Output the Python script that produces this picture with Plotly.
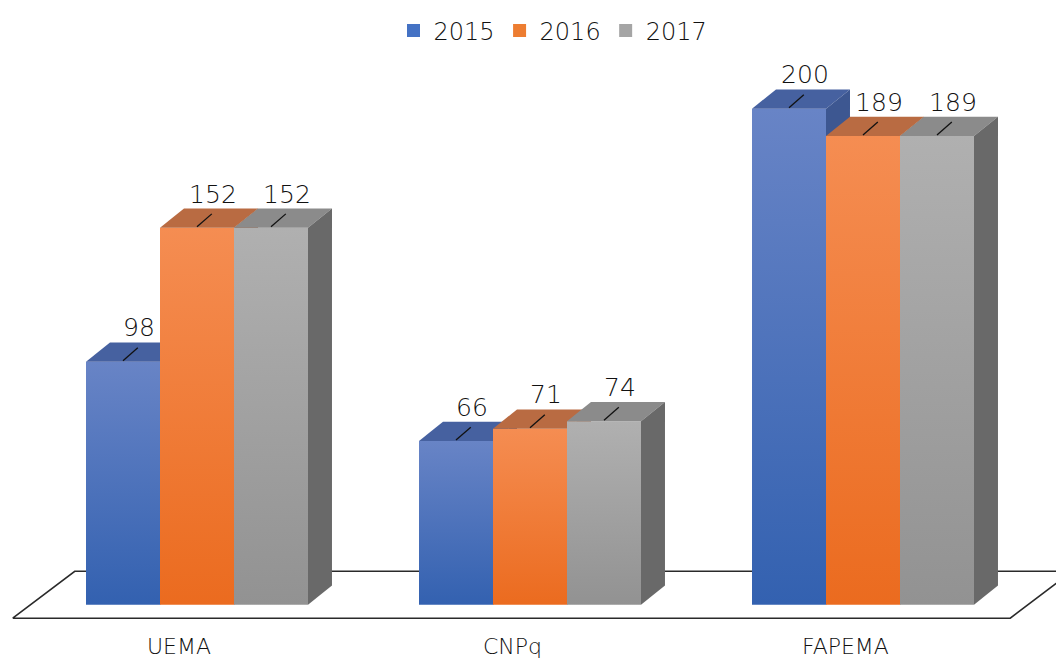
import plotly.graph_objects as go

# ---- data ----
categories = ["UEMA", "CNPq", "FAPEMA"]
years = ["2015", "2016", "2017"]
values_2015 = [98, 66, 200]
values_2016 = [152, 71, 189]
values_2017 = [152, 74, 189]
series = [values_2015, values_2016, values_2017]

# ---- style ----
legend_col = ["#4472c4", "#ed7d31", "#a5a5a5"]
front_top = ["#6884c6", "#f58d52", "#b0b0b0"]
front_bottom = ["#3361b0", "#eb6b1f", "#929292"]
top_col = ["#4661a0", "#b96b42", "#8b8b8b"]
side_col = ["#3d5791", "#a85a2e", "#696969"]

FONT = "DejaVu Sans"
GROUP_STEP = 4.5      # distance between category centres (bar widths)
BAR_W = 1.0
DX = 0.324            # depth offset along x (bar widths)
DY = 7.75             # depth offset along y (value units)

# page body has an 8px margin: the figure is 1056x653 and starts at (8, 8)
OFF = 8
W, H = 1064 - OFF, 661 - OFF
PX_X = 74.0           # pixels per bar width
PX_Y = 2.515          # pixels per value unit
X0_PAGE = 197         # page x of category 0 centre
Y0_PAGE = 604         # page y of value 0
X_RANGE = [(OFF - X0_PAGE) / PX_X, (1064 - X0_PAGE) / PX_X]
Y_RANGE = [(Y0_PAGE - 661) / PX_Y, (Y0_PAGE - OFF) / PX_Y]

fig = go.Figure()

# floor plane
n = len(categories)
fl_left = -1.5 * BAR_W - 0.99
fl_right = (n - 1) * GROUP_STEP + 1.5 * BAR_W + 0.49
fl_front, fl_back = -5.4, 13.5
fl_dx = 0.838
fig.add_trace(go.Scatter(
    x=[fl_left, fl_right, fl_right + fl_dx, fl_left + fl_dx, fl_left],
    y=[fl_front, fl_front, fl_back, fl_back, fl_front],
    mode="lines", fill="toself", fillcolor="white",
    line=dict(color="#2a2a2a", width=1.6),
    showlegend=False, hoverinfo="skip"))

label_x, label_y, label_t = [], [], []
lead_x, lead_y = [], []

for g, cat in enumerate(categories):
    for s, yr in enumerate(years):
        v = series[s][g]
        x0 = g * GROUP_STEP - 1.5 * BAR_W + s * BAR_W
        x1 = x0 + BAR_W
        # front face
        fig.add_trace(go.Scatter(
            x=[x0, x1, x1, x0, x0], y=[0, 0, v, v, 0],
            mode="lines", line=dict(width=0), fill="toself",
            fillgradient=dict(type="vertical",
                              colorscale=[[0, front_bottom[s]], [1, front_top[s]]]),
            showlegend=False, hoverinfo="skip"))
        # top face
        fig.add_trace(go.Scatter(
            x=[x0, x1, x1 + DX, x0 + DX, x0], y=[v, v, v + DY, v + DY, v],
            mode="lines", line=dict(width=0), fill="toself", fillcolor=top_col[s],
            showlegend=False, hoverinfo="skip"))
        # side face
        fig.add_trace(go.Scatter(
            x=[x1, x1 + DX, x1 + DX, x1, x1], y=[0, DY, v + DY, v, 0],
            mode="lines", line=dict(width=0), fill="toself", fillcolor=side_col[s],
            showlegend=False, hoverinfo="skip"))
        cx = (x0 + x1) / 2
        lead_x += [cx, cx + 0.2, None]
        lead_y += [v + 0.4, v + 5.6, None]
        label_x.append(cx + 0.216)
        label_y.append(v + 12.7)
        label_t.append(str(v))

# leader lines
fig.add_trace(go.Scatter(x=lead_x, y=lead_y, mode="lines",
                         line=dict(color="#111111", width=1.3),
                         showlegend=False, hoverinfo="skip"))
# value labels
fig.add_trace(go.Scatter(x=label_x, y=label_y, mode="text", text=label_t,
                         textposition="middle center",
                         textfont=dict(family=FONT, size=25, color="#111111", weight=300),
                         showlegend=False, hoverinfo="skip"))

# legend entries
for s, yr in enumerate(years):
    fig.add_trace(go.Scatter(x=[None], y=[None], mode="markers", name=yr,
                             marker=dict(symbol="square", size=13, color=legend_col[s])))

# category labels
for g, cat in enumerate(categories):
    fig.add_annotation(x=g * GROUP_STEP - 0.24, y=-16.8, text=cat, showarrow=False,
                       xanchor="center", yanchor="middle",
                       font=dict(family=FONT, size=22, color="#111111", weight=300))

fig.update_layout(
    width=W, height=H,
    margin=dict(l=0, r=0, t=0, b=0),
    paper_bgcolor="white", plot_bgcolor="white",
    xaxis=dict(range=X_RANGE, visible=False, fixedrange=True),
    yaxis=dict(range=Y_RANGE, visible=False, fixedrange=True),
    legend=dict(orientation="h", x=(553 - OFF) / W, xanchor="center",
                y=1 - (22 - OFF) / H, yanchor="middle",
                font=dict(family=FONT, size=24, color="#111111", weight=300),
                itemwidth=30, tracegroupgap=0, bgcolor="rgba(0,0,0,0)"),
    showlegend=True,
)

fig.write_html("out.html")
